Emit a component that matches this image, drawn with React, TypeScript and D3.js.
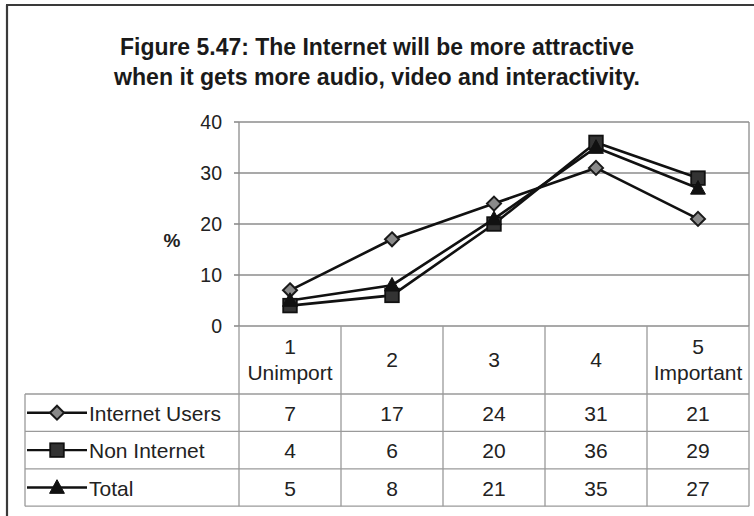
import React from "react";
import * as d3 from "d3";

const categories = ["1\nUnimport", "2", "3", "4", "5\nImportant"];
const seriesNames = ["Internet Users", "Non Internet", "Total"];
const internetUsers = [7, 17, 24, 31, 21];
const nonInternet = [4, 6, 20, 36, 29];
const total = [5, 8, 21, 35, 27];
const yTicks = [0, 10, 20, 30, 40];
const titleLines = [
  "Figure 5.47: The Internet will be more attractive",
  "when it gets more audio, video and interactivity.",
];

const seriesValues = [internetUsers, nonInternet, total];
const markerTypes = ["diamond", "square", "triangle"];

const W = 754;
const H = 516;
const plotLeft = 239;
const plotRight = 749;
const plotTop = 122;
const plotBottom = 326;
const tableLeft = 25;
const headerBottom = 394;
const rowH = 37.4;
const FONT = "Arial, 'Liberation Sans', sans-serif";
const TABLE_FS = 21;

function Marker({ type, x, y }: { type: string; x: number; y: number }) {
  if (type === "diamond") {
    const s = 7;
    return (
      <path
        d={`M${x},${y - s}L${x + s},${y}L${x},${y + s}L${x - s},${y}Z`}
        fill="#8a8a8a"
        stroke="#1a1a1a"
        strokeWidth={2}
      />
    );
  }
  if (type === "square") {
    const s = 6.8;
    return (
      <rect
        x={x - s}
        y={y - s}
        width={2 * s}
        height={2 * s}
        fill="#333"
        stroke="#111"
        strokeWidth={1.8}
      />
    );
  }
  const s = 7.8;
  return (
    <path
      d={`M${x},${y - s}L${x + s * 0.95},${y + s * 0.75}L${x - s * 0.95},${y + s * 0.75}Z`}
      fill="#111"
      stroke="#111"
      strokeWidth={1}
    />
  );
}

export default function App() {
  const x = d3
    .scaleBand<string>()
    .domain(categories)
    .range([plotLeft, plotRight])
    .paddingInner(0)
    .paddingOuter(0);
  const y = d3.scaleLinear().domain([0, 40]).range([plotBottom, plotTop]);
  const line = d3
    .line<number>()
    .x((_, i) => (x(categories[i]) as number) + x.bandwidth() / 2)
    .y((d) => y(d));

  const bw = x.bandwidth();
  const tableBottom = headerBottom + rowH * seriesNames.length;
  const titleWidths = [514, 526];

  return (
    <svg
      width={W}
      height={H}
      style={{ position: "absolute", left: 0, top: 0, background: "#fff" }}
      fontFamily={FONT}
    >
      <rect x={0} y={0} width={W} height={H} fill="#fff" />
      {/* outer frame */}
      <line x1={7} y1={5} x2={7} y2={H} stroke="#3a3a3a" strokeWidth={2.2} />
      <line x1={6} y1={5} x2={W} y2={5} stroke="#3a3a3a" strokeWidth={2.2} />

      {/* title */}
      {titleLines.map((t, i) => (
        <text
          key={i}
          x={377}
          y={55 + i * 30}
          textAnchor="middle"
          fontSize={23}
          fontWeight="bold"
          fill="#1a1a1a"
          textLength={titleWidths[i]}
          lengthAdjust="spacingAndGlyphs"
        >
          {t}
        </text>
      ))}

      {/* gridlines and ticks */}
      {yTicks.map((t) => (
        <g key={t}>
          <line
            x1={plotLeft}
            x2={plotRight}
            y1={y(t)}
            y2={y(t)}
            stroke="#8c8c8c"
            strokeWidth={1.3}
          />
          <line x1={plotLeft - 5} x2={plotLeft} y1={y(t)} y2={y(t)} stroke="#666" strokeWidth={1.2} />
          <text
            x={222}
            y={y(t) + 7}
            textAnchor="end"
            fontSize={19.5}
            fill="#222"
          >
            {t}
          </text>
        </g>
      ))}
      <line x1={plotLeft} x2={plotLeft} y1={plotTop} y2={plotBottom} stroke="#8c8c8c" strokeWidth={1.3} />
      <line x1={plotRight} x2={plotRight} y1={plotTop} y2={plotBottom} stroke="#8c8c8c" strokeWidth={1.3} />
      <text x={172} y={247} textAnchor="middle" fontSize={19} fontWeight="bold" fill="#222">
        %
      </text>

      {/* table */}
      <g stroke="#9a9a9a" strokeWidth={1.3}>
        {categories.map((c) => (
          <line
            key={c}
            x1={x(c) as number}
            x2={x(c) as number}
            y1={plotBottom}
            y2={tableBottom}
          />
        ))}
        <line x1={plotRight} x2={plotRight} y1={plotBottom} y2={tableBottom} />
        <line x1={tableLeft} x2={tableLeft} y1={headerBottom} y2={tableBottom} />
        {[0, 1, 2, 3].map((r) => (
          <line
            key={r}
            x1={tableLeft}
            x2={plotRight}
            y1={headerBottom + r * rowH}
            y2={headerBottom + r * rowH}
          />
        ))}
      </g>
      {categories.map((c) => {
        const parts = c.split("\n");
        const cx = (x(c) as number) + bw / 2;
        const midY = (plotBottom + headerBottom) / 2;
        return (
          <text key={c} textAnchor="middle" fontSize={TABLE_FS} fill="#222">
            {parts.map((p, j) => (
              <tspan
                key={j}
                x={cx}
                y={midY + 7 + (j - (parts.length - 1) / 2) * 26}
              >
                {p}
              </tspan>
            ))}
          </text>
        );
      })}
      {seriesNames.map((name, r) => {
        const cy = headerBottom + r * rowH + rowH / 2;
        return (
          <g key={name}>
            <line x1={27} x2={87} y1={cy} y2={cy} stroke="#111" strokeWidth={2.4} />
            <Marker type={markerTypes[r]} x={57} y={cy} />
            <text x={89} y={cy + 8} fontSize={TABLE_FS} fill="#222">
              {name}
            </text>
            {seriesValues[r].map((v, i) => (
              <text
                key={i}
                x={(x(categories[i]) as number) + bw / 2}
                y={cy + 8}
                textAnchor="middle"
                fontSize={TABLE_FS}
                fill="#222"
              >
                {v}
              </text>
            ))}
          </g>
        );
      })}

      {/* lines */}
      {seriesValues.map((vals, s) => (
        <path
          key={s}
          d={line(vals) as string}
          fill="none"
          stroke="#111"
          strokeWidth={2.6}
        />
      ))}
      {seriesValues.map((vals, s) =>
        vals.map((v, i) => (
          <Marker
            key={`${s}-${i}`}
            type={markerTypes[s]}
            x={(x(categories[i]) as number) + bw / 2}
            y={y(v)}
          />
        ))
      )}
    </svg>
  );
}
